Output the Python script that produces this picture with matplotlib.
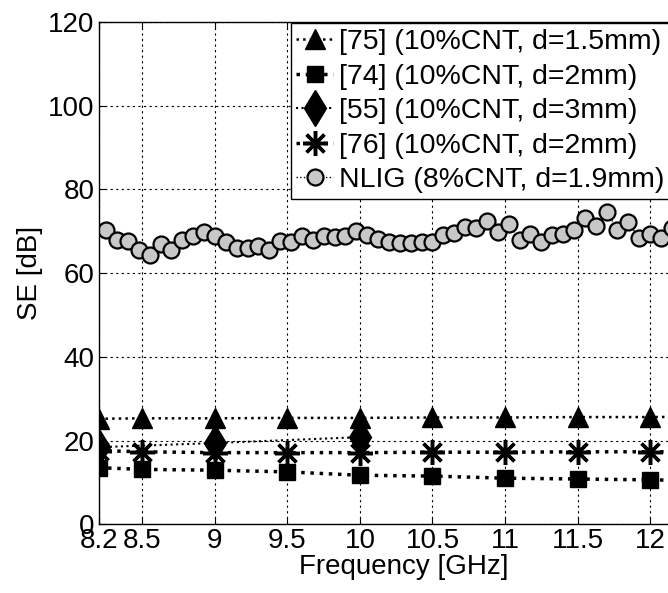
import matplotlib
matplotlib.use('Agg')
import matplotlib.pyplot as plt

plt.rcParams['font.family'] = ['Liberation Sans', 'DejaVu Sans']

# Reference measurements (X band)
freq_ref = [8.2, 8.5, 9, 9.5, 10, 10.5, 11, 11.5, 12, 12.4]
se_75 = [25.2, 25.3, 25.3, 25.4, 25.4, 25.5, 25.5, 25.6, 25.6, 25.7]
se_74 = [13.5, 13.1, 12.9, 12.5, 11.7, 11.5, 11.0, 10.8, 10.6, 10.4]
se_76 = [17.6, 17.3, 17.1, 17.1, 17.1, 17.2, 17.2, 17.3, 17.3, 17.3]

freq_55 = [8.2, 9, 10]
se_55 = [18.4, 19.4, 20.8]

# NLIG measurement
freq_nlig = [8.25, 8.325, 8.4, 8.475, 8.55, 8.625, 8.7, 8.775, 8.85, 8.925,
             9.0, 9.075, 9.15, 9.225, 9.3, 9.375, 9.45, 9.525, 9.6, 9.675,
             9.75, 9.825, 9.9, 9.975, 10.05, 10.125, 10.2, 10.275, 10.35, 10.425,
             10.5, 10.575, 10.65, 10.725, 10.8, 10.875, 10.95, 11.025, 11.1, 11.175,
             11.25, 11.325, 11.4, 11.475, 11.55, 11.625, 11.7, 11.775, 11.85, 11.925,
             12.0, 12.075, 12.15]
se_nlig = [70.4, 68.0, 67.6, 65.6, 64.2, 67.0, 65.6, 68.0, 68.8, 69.8,
           68.9, 67.5, 66.0, 65.9, 66.4, 65.5, 67.6, 67.4, 68.9, 68.0,
           68.8, 68.6, 68.8, 70.0, 69.2, 68.2, 67.5, 67.2, 67.2, 67.5,
           67.4, 69.2, 69.6, 71.1, 70.7, 72.5, 69.7, 71.8, 68.0, 69.4,
           67.5, 69.2, 69.4, 70.4, 73.1, 71.3, 74.7, 70.4, 72.1, 68.3,
           69.4, 68.4, 70.7]

xticks = [8.2, 8.5, 9, 9.5, 10, 10.5, 11, 11.5, 12, 12.4]
xticklabels = ['8.2', '8.5', '9', '9.5', '10', '10.5', '11', '11.5', '12', '']
yticks = [0, 20, 40, 60, 80, 100, 120]

fig = plt.figure(figsize=(6.68, 5.93), dpi=100)
# axes run past the right edge of the picture, like the cropped original
ax = fig.add_axes([0.148, 0.116, 0.912, 0.847])

ax.plot(freq_ref, se_75, ':', color='k', lw=1.8, marker='^', ms=15,
        mfc='k', mec='k', label='[75] (10%CNT, d=1.5mm)')
ax.plot(freq_ref, se_74, ':', color='k', lw=2.5, marker='s', ms=12,
        mfc='k', mec='k', label='[74] (10%CNT, d=2mm)')
ax.plot(freq_55, se_55, ':', color='k', lw=1.5, marker='d', ms=18,
        mfc='k', mec='k', label='[55] (10%CNT, d=3mm)')
ax.plot(freq_ref, se_76, ':', color='k', lw=2.5, marker=(8, 2, 0), ms=18,
        mew=2.5, mec='k', label='[76] (10%CNT, d=2mm)')
ax.plot(freq_nlig, se_nlig, ':', color='k', lw=1.0, marker='o', ms=11.5,
        mfc='#c8c8c8', mec='k', mew=1.6, label='NLIG (8%CNT, d=1.9mm)')

ax.set_xlim(8.2, 12.4)
ax.set_ylim(0, 120)
ax.set_xticks(xticks)
ax.set_xticklabels(xticklabels)
ax.set_yticks(yticks)
ax.grid(True, linestyle=(0, (2, 3)), color='k', lw=0.8)
ax.tick_params(direction='in', length=5, top=True, right=True, labelsize=20, pad=3)
for s in ax.spines.values():
    s.set_linewidth(1.0)

ax.set_xlabel('Frequency [GHz]', fontsize=20, labelpad=0)
ax.set_ylabel('SE [dB]', fontsize=20, labelpad=4)

leg = ax.legend(loc='upper left', bbox_to_anchor=(0.315, 0.997), borderaxespad=0,
                fontsize=20.5, handlelength=1.3, handletextpad=0.2, labelspacing=0.3,
                borderpad=0.2, fancybox=False, framealpha=1, edgecolor='k')
leg.get_frame().set_linewidth(1.0)

fig.savefig('out.png', dpi=100)
